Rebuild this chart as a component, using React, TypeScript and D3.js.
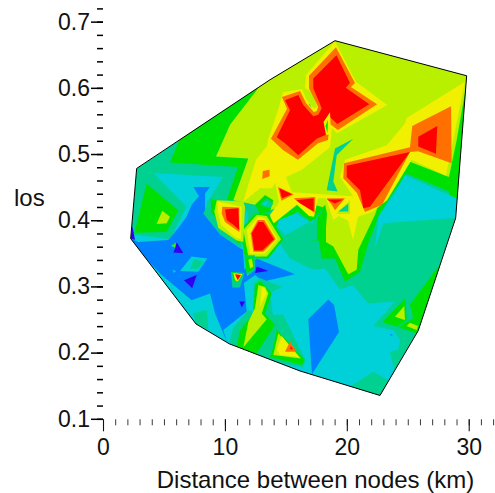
// App.tsx - los vs distance contour map
import React, { useRef, useEffect } from 'react';
import * as d3 from 'd3';

type Pt = [number, number];

// contour band colours, low to high
const bandNames = ['deep', 'blue', 'cyan', 'teal', 'green', 'lime', 'yellow', 'orange', 'red'];
const bandColors = ['#3000f0', '#0080ff', '#00d0d8', '#00d090', '#00e000', '#b8f000', '#f0f000', '#ff7000', '#ff0000'];

const xMajor = [0, 10, 20, 30];
const xMinor = d3.range(0, 33);
const yMajor = [0.1, 0.2, 0.3, 0.4, 0.5, 0.6, 0.7];
const yMinor = d3.range(0, 32).map((i) => 0.1 + i * 0.02);

// every outline below is [distance km, los]
const hull: Pt[] = [[2.72,.479],[13.66,.613],[18.99,.672],[29.79,.619],[28.89,.404],[25.82,.234],[22.68,.136],[16.12,.173],[10.32,.214],[7.59,.244],[2.23,.373]];

const cyanMain: Pt[] = [[4.09,.472],[9.8,.466],[8.74,.434],[8.16,.412],[9.56,.379],[11.28,.359],[11.28,.419],[11.69,.419],[12.43,.344],[14.21,.374],[15.3,.343],[17.21,.326],[18.17,.328],[19.4,.296],[20.44,.303],[21.72,.275],[23.91,.278],[22.13,.241],[23.77,.235],[24.32,.22],[24.18,.205],[23.5,.202],[23.91,.171],[23.09,.126],[16.12,.15],[10.29,.187],[7.1,.232],[1.76,.363],[2.44,.379],[5.45,.372],[6.82,.421]];
const tealSouth: Pt[] = [[20.22,.149],[22.13,.172],[23.34,.159],[23.01,.129]];
const tealSouthWest: Pt[] = [[7.37,.26],[8.47,.265],[8.6,.236],[7.59,.244]];
const blueMain: Pt[] = [[2.23,.373],[2.85,.368],[5.32,.371],[6.14,.389],[6.82,.406],[7.23,.424],[7.83,.437],[7.37,.451],[8.74,.451],[8.33,.441],[8.33,.416],[8.19,.411],[9.56,.379],[11.25,.358],[11.44,.356],[11.55,.326],[12.57,.343],[15.71,.319],[13.11,.308],[12.43,.318],[11.52,.306],[11.75,.263],[9.83,.235],[10.11,.217],[9.15,.26],[8.74,.29],[7.23,.28],[4.77,.318],[2.01,.371]];
const blueLens: Pt[] = [[18.44,.281],[18.91,.273],[19.32,.232],[17.1,.168],[16.8,.251]];
const blueSpecks: Pt[][] = [
  [[23.5,.229],[23.75,.228],[23.58,.226]],
  [[11.28,.407],[11.4,.407],[11.36,.4]],
];
const cyanIsland: Pt[][] = [
  [[7.23,.346],[8.51,.343],[7.78,.323],[6.28,.324]],
  [[5.66,.326],[5.95,.324],[5.78,.321]],
  [[5.51,.362],[6,.368],[6.09,.357]],
];
const tealIsland: Pt[] = [[7.42,.342],[8.24,.338],[7.69,.327],[7.1,.328]];
const deepSpots: Pt[][] = [
  [[6,.368],[6.55,.351],[5.73,.352],[5.87,.358]],
  [[7.65,.318],[7.28,.298],[6.6,.31]],
  [[12.57,.331],[13.52,.324],[12.43,.321]],
  [[11.14,.278],[11.61,.278],[11.34,.269]],
  [[2.23,.373],[2.38,.392],[2.58,.371]],
];
const speckGreen: Pt[] = [[5.62,.364],[5.91,.366],[5.87,.359]];
const speckLime: Pt[] = [[5.74,.363],[5.87,.364],[5.82,.36]];

const greenWest: Pt[] = [[3.54,.456],[6.14,.416],[5.18,.383],[2.53,.382]];
const limeWest: Pt[] = [[4.82,.415],[5.45,.406],[5.18,.396],[4.36,.395]];
const greenNorth: Pt[] = [[6.6,.538],[13.35,.614],[10.38,.545],[9.23,.497],[11.88,.494],[10.65,.431],[10.11,.431],[11.03,.481],[5.45,.488]];
const greenEast: Pt[] = [[29.81,.616],[29.08,.413],[28.28,.445],[24.87,.471],[23.5,.436],[22.54,.406],[21.72,.366],[21.04,.323],[19.81,.308],[18.99,.343],[17.9,.343],[17.62,.376],[15.3,.368],[14.72,.389],[16.12,.431],[18.17,.446],[22.68,.462]];
const limeMain: Pt[] = [[13.35,.616],[18.99,.674],[29.92,.622],[28.97,.522],[28.34,.466],[25.14,.489],[22.68,.431],[22.27,.409],[20.9,.356],[20.77,.326],[20.08,.319],[18.85,.361],[18.25,.368],[18.25,.419],[16.12,.431],[13.25,.413],[12.43,.424],[10.65,.431],[11.88,.494],[9.23,.497],[10.38,.545]];
const eastSink: Pt[] = [[18.99,.509],[20.49,.524],[19.13,.499],[18.85,.459],[19.21,.444],[18.31,.446]];

const cyanEast: Pt[] = [[24.73,.469],[29.4,.43],[28.8,.404],[22.95,.396],[22.27,.358],[22.54,.406],[23.77,.438]];

const yellowNorth: Pt[] = [[14.72,.594],[16.28,.599],[16.69,.582],[17.27,.57],[17.51,.572],[17.1,.594],[16.53,.6],[16.61,.62],[18.99,.671],[20.71,.61],[23.28,.575],[19.15,.532],[18.74,.54],[18.58,.511],[16.28,.477],[14.97,.466],[15.46,.443],[14.07,.457],[13.82,.449],[12.84,.449],[11.44,.428],[12.51,.492],[13.41,.513],[13.49,.522],[14.31,.567]];
const orangeNorth: Pt[] = [[14.64,.587],[16.12,.596],[16.61,.578],[17.27,.564],[17.51,.566],[17.6,.572],[16.86,.6],[16.86,.619],[19.07,.662],[20.63,.608],[20.3,.602],[22.44,.576],[19.23,.537],[18.58,.546],[18.41,.522],[17.6,.517],[15.95,.492],[14.72,.507],[13.74,.524],[15.05,.569]];
const redNorth: Pt[] = [[14.89,.582],[15.98,.59],[16.39,.575],[17.21,.558],[17.62,.56],[17.9,.57],[17.21,.6],[17.21,.615],[19.11,.65],[20.22,.608],[19.87,.601],[21.8,.576],[19.18,.546],[18.54,.557],[18.25,.53],[17.49,.524],[15.98,.499],[14.89,.517],[14.21,.526],[15.3,.567]];
const northTealSpeck: Pt[] = [[16.8,.577],[17.08,.57],[16.94,.576]];
const notchYellow: Pt[] = [[18.05,.549],[18.58,.564],[18.66,.53],[18.25,.53]];
const notchGreen: Pt[] = [[18.21,.543],[18.42,.553],[18.37,.532]];
const orangeSpot: Pt[] = [[13.07,.475],[13.62,.477],[13.62,.467],[13.02,.463]];

const yellowEast: Pt[] = [[29.65,.61],[28.09,.468],[25.28,.492],[23.26,.431],[22.03,.413],[20.88,.406],[20.47,.371],[20.06,.4],[19.28,.407],[20.47,.437],[19.4,.466],[19.81,.492],[23.23,.514],[24.73,.547],[24.87,.555]];
const orangeEast: Pt[] = [[25.33,.543],[28.51,.573],[28.56,.487],[25.8,.505],[25.14,.504],[22.85,.424],[21.45,.413],[20.79,.442],[19.67,.464],[19.73,.487],[25.14,.511]];
const redEastTop: Pt[] = [[25.82,.527],[27.38,.543],[27.27,.501],[25.82,.512]];
const redEastLow: Pt[] = [[19.95,.483],[25.14,.504],[21.86,.421],[21.31,.419],[21.04,.446],[19.95,.466]];

// the two sinks under the middle ridge
const blobGreen: Pt[] = [[12.43,.424],[13.25,.439],[13.93,.431],[13.66,.414],[12.84,.411]];
const blobTeal: Pt[] = [[12.84,.424],[13.39,.434],[13.93,.426],[13.66,.419]];
const blobCyan: Pt[] = [[13.08,.427],[13.41,.43],[13.49,.426],[13.17,.422]];
const sinkGreen: Pt[] = [[13.55,.396],[15.87,.421],[17.1,.404],[18.19,.424],[18.33,.411],[18.19,.371],[14.07,.366]];
const sinkTeal: Pt[] = [[13.68,.386],[15.87,.414],[17.1,.398],[18.14,.42],[17.51,.404],[17.51,.371],[14.64,.363]];
const sinkCyan: Pt[] = [[14.37,.401],[15.79,.411],[17.1,.396],[18.06,.42],[17.51,.404],[14.91,.378],[14.23,.391]];
const ridgeYellow: Pt[] = [[14.09,.457],[15.46,.443],[20.49,.437],[19.24,.406],[18.85,.401],[18.25,.434],[17.6,.434],[17.27,.406],[16.86,.407],[15.87,.424],[13.82,.394],[13.66,.409],[14.4,.427]];
const ridgeOrange: Pt[][] = [
  [[14.31,.451],[15.6,.44],[14.59,.43]],
  [[15.6,.434],[17.37,.436],[17.33,.412],[16.14,.426]],
  [[18.31,.434],[19.81,.434],[18.99,.416],[18.72,.424]],
];
const ridgeRed: Pt[][] = [
  [[14.42,.449],[15.46,.44],[14.64,.434]],
  [[15.81,.431],[17.24,.434],[17.24,.414],[16.16,.426]],
  [[18.31,.432],[19.67,.432],[18.99,.426]],
];
const holeLime: Pt[] = [[19.07,.41],[20.22,.431],[20.22,.41]];
const holeTeal: Pt[] = [[19.26,.414],[20.08,.426],[20.08,.414]];

// peak at about (10.5 km, 0.4)
const peakATeal: Pt[] = [[8.49,.431],[8.49,.413],[9.72,.384],[11.28,.363],[11.52,.422]];
const peakAGreen: Pt[] = [[8.82,.433],[8.82,.413],[9.88,.387],[11.11,.366],[11.44,.422]];
const peakALime: Pt[] = [[9.29,.431],[11.47,.429],[11.61,.421],[11.47,.368],[10.93,.37],[9.42,.389],[9.09,.414]];
const peakAYellow: Pt[] = [[9.37,.429],[11.34,.421],[11.28,.372],[10.79,.375],[9.64,.394],[9.37,.414]];
const peakAOrange: Pt[] = [[9.75,.421],[11.14,.42],[11.14,.383],[9.97,.398],[9.7,.411]];
const peakARed: Pt[] = [[9.97,.417],[11.06,.419],[11.14,.386],[10.65,.394],[10.11,.401]];

// peak at about (13 km, 0.37)
const peakBGreen: Pt[] = [[12.43,.411],[13.49,.411],[14.75,.372],[13.52,.343],[11.61,.343],[11.2,.386]];
const peakBLime: Pt[] = [[12.57,.409],[13.39,.407],[14.56,.372],[13.39,.346],[11.88,.346],[11.47,.386]];
const peakBYellow: Pt[] = [[12.7,.406],[13.25,.404],[14.29,.372],[13.25,.35],[12.02,.35],[11.75,.386]];
const peakBOrange: Pt[] = [[12.65,.401],[13.19,.401],[14.13,.372],[13.11,.353],[12.29,.353],[12.07,.381]];
const peakBRed: Pt[] = [[12.7,.398],[13.11,.398],[13.99,.372],[13.03,.355],[12.37,.355],[12.16,.381]];

const peakCTeal: Pt[] = [[11.52,.348],[12.43,.348],[12.43,.326],[11.77,.316]];
const peakCGreen: Pt[] = [[11.61,.346],[12.35,.346],[12.35,.328],[11.75,.321]];
const peakCLime: Pt[] = [[11.88,.341],[12.16,.343],[12.29,.331],[12.02,.328]];

const peakDTeal: Pt[] = [[10.46,.323],[11.55,.321],[11.2,.299],[10.57,.299]];
const peakDGreen: Pt[] = [[10.54,.323],[11.44,.32],[11.07,.309],[10.7,.309]];
const peakDYellow: Pt[] = [[10.65,.321],[11.39,.319],[11.01,.308],[10.79,.31]];
const peakDRed: Pt[] = [[10.79,.319],[11.28,.318],[11.01,.31]];

// south ridge
const southTeal: Pt[] = [[12.26,.262],[12.35,.306],[12.84,.313],[14.64,.3],[13.66,.291],[13.9,.258],[14.75,.258],[16.53,.19],[16.36,.179],[13.8,.187],[11.47,.205],[10.52,.208],[10.38,.22],[10.65,.238],[11.85,.265]];
const southGreen: Pt[] = [[12.43,.303],[12.84,.309],[13.8,.29],[13.25,.26],[14.07,.242],[12.57,.2],[11.47,.2],[10.93,.21],[11.2,.235],[12.29,.26]];
const southLime: Pt[] = [[12.7,.303],[13.25,.3],[13.52,.29],[12.98,.26],[13.39,.251],[11.47,.209],[11.88,.247],[12.43,.268]];
const southYellow: Pt[] = [[12.98,.3],[13.25,.298],[13.39,.29],[12.84,.27]];
const peakEGreen: Pt[] = [[14.21,.235],[16.53,.19],[16.26,.182],[13.66,.194],[13.93,.21]];
const peakELime: Pt[] = [[14.34,.23],[16.2,.192],[13.93,.197]];
const peakEYellow: Pt[] = [[14.62,.226],[16.04,.194],[14.48,.197],[14.21,.205]];
const peakEOrange: Pt[] = [[15.3,.217],[15.85,.202],[14.89,.202]];
const peakERed: Pt[] = [[15.34,.211],[15.54,.206],[15.34,.206]];

// south east edge
const edgeGreen: Pt[][] = [
  [[27.46,.331],[25.14,.273],[25.41,.253],[24.16,.239],[24.98,.234],[26.13,.227],[28.01,.326]],
  [[24.76,.283],[22.9,.247],[24.05,.24],[24.87,.25]],
];
const edgeLime: Pt[][] = [
  [[24.67,.271],[23.91,.255],[24.73,.25]],
  [[25.14,.246],[24.87,.241],[25.69,.235],[25.8,.241]],
];

// painted in this order, later outlines sit on top of earlier ones
const layers: [string, Pt[][]][] = [
  ['teal', [hull]],
  ['cyan', [cyanMain]],
  ['teal', [tealSouth, tealSouthWest]],
  ['blue', [blueMain, blueLens, ...blueSpecks]],
  ['cyan', cyanIsland],
  ['teal', [tealIsland]],
  ['deep', deepSpots],
  ['green', [speckGreen]],
  ['lime', [speckLime]],
  ['green', [greenWest]],
  ['lime', [limeWest]],
  ['green', [greenNorth, greenEast]],
  ['cyan', [cyanEast]],
  ['lime', [limeMain]],
  ['teal', [eastSink]],
  ['green', [blobGreen, sinkGreen]],
  ['teal', [blobTeal, sinkTeal]],
  ['cyan', [blobCyan, sinkCyan]],
  ['yellow', [yellowNorth, yellowEast, ridgeYellow]],
  ['lime', [holeLime]],
  ['teal', [holeTeal]],
  ['orange', [orangeNorth, orangeEast, orangeSpot, ...ridgeOrange]],
  ['red', [redNorth, redEastTop, redEastLow, ...ridgeRed]],
  ['teal', [northTealSpeck]],
  ['yellow', [notchYellow]],
  ['green', [notchGreen]],
  ['teal', [peakATeal]],
  ['green', [peakAGreen, peakBGreen]],
  ['lime', [peakALime, peakBLime]],
  ['yellow', [peakAYellow, peakBYellow]],
  ['orange', [peakAOrange, peakBOrange]],
  ['red', [peakARed, peakBRed]],
  ['teal', [peakCTeal, peakDTeal, southTeal]],
  ['green', [peakCGreen, peakDGreen, southGreen, peakEGreen, ...edgeGreen]],
  ['lime', [peakCLime, southLime, peakELime, ...edgeLime]],
  ['yellow', [peakDYellow, southYellow, peakEYellow]],
  ['orange', [peakEOrange]],
  ['red', [peakDRed, peakERed]],
];

const font = '"Liberation Sans", Arial, sans-serif';
const width = 495;
const height = 493;

const x = d3.scaleLinear().domain([0, 32]).range([103.5, 493.6]);
const y = d3.scaleLinear().domain([0.1, 0.72]).range([419.3, 8.9]);
const band = d3.scaleOrdinal<string, string>().domain(bandNames).range(bandColors);
const outline = d3.line<Pt>().x((d) => x(d[0])).y((d) => y(d[1])).curve(d3.curveLinearClosed);

const App = () => {
  const axesRef = useRef<SVGGElement>(null);

  useEffect(() => {
    const g = d3.select(axesRef.current);
    g.selectAll('*').remove();

    const xAt = 419.3;
    const yAt = 103;

    g.append('g').attr('transform', `translate(0,${xAt})`)
      .call(d3.axisBottom(x).tickValues(xMinor).tickSize(6).tickFormat(() => '').offset(0))
      .call((s) => s.selectAll('line').attr('stroke', '#222').attr('stroke-width', 0.9));
    g.append('g').attr('transform', `translate(0,${xAt})`)
      .call(d3.axisBottom(x).tickValues(xMajor).tickSize(12).tickPadding(7).offset(0))
      .call((s) => s.selectAll('line').attr('stroke', '#111').attr('stroke-width', 1.1));

    g.append('g').attr('transform', `translate(${yAt},0)`)
      .call(d3.axisLeft(y).tickValues(yMinor).tickSize(6).tickFormat(() => '').offset(0))
      .call((s) => s.selectAll('line').attr('stroke', '#000').attr('stroke-width', 1.5));
    g.append('g').attr('transform', `translate(${yAt},0)`)
      .call(d3.axisLeft(y).tickValues(yMajor).tickSize(12).tickPadding(1).tickFormat(d3.format('.1f')).offset(0))
      .call((s) => s.selectAll('line').attr('stroke', '#000').attr('stroke-width', 1.5));

    g.selectAll('.domain').remove();
    g.selectAll('text').attr('font-family', font).attr('font-size', 23).attr('fill', '#111');
  }, []);

  return (
    <svg width={width} height={height} style={{ position: 'absolute', left: 0, top: 0 }}>
      <defs>
        <clipPath id="hull-clip">
          <path d={outline(hull) ?? ''} />
        </clipPath>
      </defs>
      <g clipPath="url(#hull-clip)" shapeRendering="geometricPrecision">
        {layers.map(([name, polys], i) => (
          <g key={i} fill={band(name)}>
            {polys.map((p, j) => <path key={j} d={outline(p) ?? ''} />)}
          </g>
        ))}
      </g>
      <path d={outline(hull) ?? ''} fill="none" stroke="#000" strokeWidth={1} />
      <g ref={axesRef} />
      <text x={14} y={206} fontFamily={font} fontSize={24} fill="#111">los</text>
      <text x={315.5} y={487.5} textAnchor="middle" fontFamily={font} fontSize={24} fill="#111">Distance between nodes (km)</text>
    </svg>
  );
};

export default App;
